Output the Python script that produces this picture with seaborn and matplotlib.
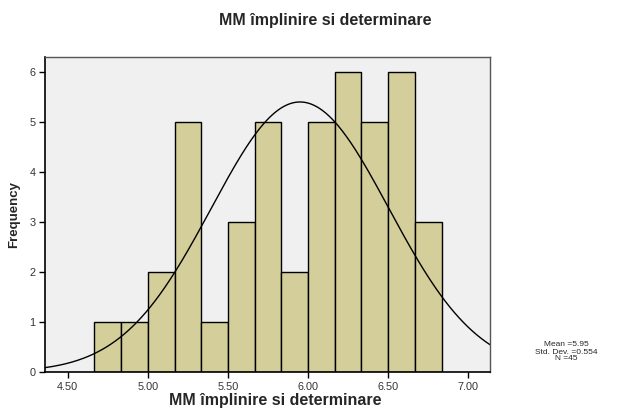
import numpy as np
import pandas as pd
import matplotlib
matplotlib.use("Agg")
import matplotlib.pyplot as plt
import seaborn as sns

# histogram (bins of width 1/6)
bin_left = 14 / 3
bin_width = 1 / 6
counts = [1, 1, 2, 5, 1, 3, 5, 2, 5, 6, 5, 6, 3]
mean_val = 5.95
std_val = 0.554
n_val = 45
x_ticks = [4.50, 5.00, 5.50, 6.00, 6.50, 7.00]
y_ticks = [0, 1, 2, 3, 4, 5, 6]
title = "MM împlinire si determinare"

edges = bin_left + bin_width * np.arange(len(counts) + 1)
centers = (edges[:-1] + edges[1:]) / 2
df = pd.DataFrame({"value": centers, "count": counts})

sns.set_style("ticks")
plt.rcParams["font.family"] = ["Liberation Sans", "DejaVu Sans"]

fig = plt.figure(figsize=(6.17, 4.08), dpi=100)
ax = fig.add_axes([45 / 617, 36 / 408, 445 / 617, 315 / 408])
ax.set_facecolor("#F0F0F0")

sns.histplot(data=df, x="value", weights="count", bins=edges.tolist(), ax=ax,
             color="#D3CE9A", edgecolor="black", linewidth=1.0, alpha=1)

# fitted normal curve scaled to counts
xs = np.linspace(4.358, 7.136, 300)
ys = n_val * bin_width * np.exp(-0.5 * ((xs - mean_val) / std_val) ** 2) / (std_val * np.sqrt(2 * np.pi))
sns.lineplot(x=xs, y=ys, ax=ax, color="black", linewidth=1.0)

ax.set_xlim(4.358, 7.136)
ax.set_ylim(0, 6.3)
ax.set_xticks(x_ticks)
ax.set_xticklabels([f"{t:.2f}" for t in x_ticks])
ax.set_yticks(y_ticks)
ax.tick_params(labelsize=7.8, labelcolor="#333333", color="black", length=4, width=1, pad=3)

for side in ["left", "bottom"]:
    ax.spines[side].set_color("black")
    ax.spines[side].set_linewidth(1.2)
for side in ["top", "right"]:
    ax.spines[side].set_visible(True)
    ax.spines[side].set_color("#555555")
    ax.spines[side].set_linewidth(1.0)

ax.set_xlabel(title, fontsize=11.5, fontweight="bold", va="center")
ax.set_ylabel("Frequency", fontsize=9.5, fontweight="bold")
ax.xaxis.set_label_coords((275 - 45) / 445, -(401 - 372) / 315)
ax.yaxis.set_label_coords(-(45 - 20) / 445, 0.5)
fig.text(325 / 617, 1 - 21 / 408, title, ha="center", va="center",
         fontsize=11.5, fontweight="bold")

fig.text(566 / 617, 1 - 352 / 408,
         f"Mean ={mean_val}\nStd. Dev. ={std_val}\nN ={n_val}",
         ha="center", va="center", fontsize=6, linespacing=1.0)

fig.savefig("out.png", dpi=100, facecolor="white")
